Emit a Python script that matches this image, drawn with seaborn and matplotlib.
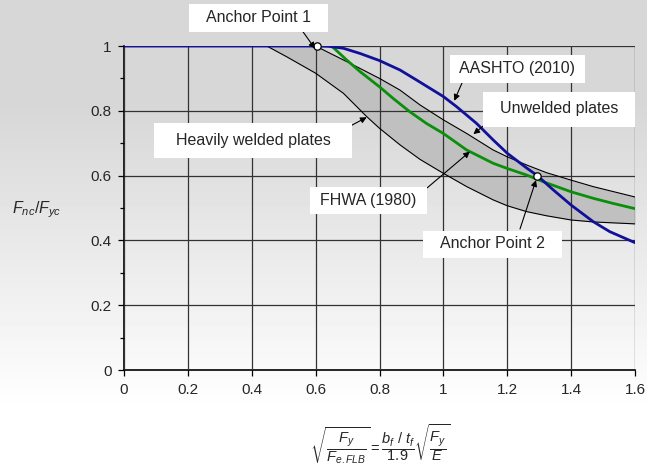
import matplotlib
matplotlib.use("Agg")
import matplotlib.pyplot as plt
from matplotlib.patches import Rectangle
from matplotlib.ticker import MultipleLocator
import numpy as np
import seaborn as sns

# AASHTO (2010) curve
aashto_x = [0.0, 0.60, 0.64, 0.687, 0.739, 0.80, 0.864, 0.916, 1.0, 1.041, 1.104, 1.156,
            1.20, 1.26, 1.294, 1.344, 1.40, 1.469, 1.521, 1.60]
aashto_y = [1.0, 1.0, 0.999, 0.993, 0.977, 0.955, 0.926, 0.895, 0.844, 0.813, 0.761, 0.71,
            0.669, 0.624, 0.60, 0.556, 0.509, 0.458, 0.427, 0.393]

# FHWA (1980) curve
fhwa_x = [0.65, 0.697, 0.739, 0.80, 0.843, 0.895, 0.947, 1.0, 1.073, 1.156, 1.20, 1.26,
          1.313, 1.40, 1.469, 1.532, 1.60]
fhwa_y = [1.0, 0.957, 0.921, 0.874, 0.838, 0.797, 0.761, 0.73, 0.679, 0.638, 0.622, 0.602,
          0.581, 0.55, 0.53, 0.514, 0.498]

# unwelded plates (upper bound of band)
unwelded_x = [0.45, 0.60, 0.634, 0.697, 0.80, 0.864, 0.927, 1.0, 1.073, 1.156, 1.20, 1.26,
              1.323, 1.40, 1.469, 1.60]
unwelded_y = [1.0, 1.0, 0.983, 0.952, 0.90, 0.864, 0.818, 0.772, 0.73, 0.679, 0.658, 0.633,
              0.609, 0.586, 0.566, 0.534]

# heavily welded plates (lower bound of band)
welded_x = [0.447, 0.509, 0.60, 0.687, 0.76, 0.80, 0.864, 0.927, 1.0, 1.073, 1.156, 1.20,
            1.26, 1.323, 1.40, 1.469, 1.60]
welded_y = [1.0, 0.967, 0.916, 0.854, 0.782, 0.746, 0.695, 0.65, 0.607, 0.566, 0.525, 0.507,
            0.489, 0.476, 0.463, 0.457, 0.451]

anchor_x = [0.603, 1.294]
anchor_y = [1.0, 0.60]

x_ticks = [0, 0.2, 0.4, 0.6, 0.8, 1.0, 1.2, 1.4, 1.6]
x_tick_labels = ["0", "0.2", "0.4", "0.6", "0.8", "1", "1.2", "1.4", "1.6"]
y_ticks = [0, 0.2, 0.4, 0.6, 0.8, 1.0]
y_tick_labels = ["0", "0.2", "0.4", "0.6", "0.8", "1"]

# label text, box centre / size in pixels (from top-left), arrow start (px) and arrow tip (data)
labels = [
    ("Anchor Point 1", (258, 18), (139, 28), (301, 29), (0.598, 0.992)),
    ("AASHTO (2010)", (517, 69), (135, 28), (462, 83), (1.034, 0.831)),
    ("Unwelded plates", (559, 109), (152, 35), (487, 123), (1.094, 0.728)),
    ("Heavily welded plates", (253, 140), (199, 35), (339, 132), (0.76, 0.78)),
    ("FHWA (1980)", (368.5, 200), (117, 27), (427, 188), (1.083, 0.674)),
    ("Anchor Point 2", (492, 244), (139, 27), (520, 229), (1.29, 0.586)),
]

W, H = 647, 470

sns.set_theme(style="ticks")
plt.rcParams["font.family"] = ["Liberation Sans", "DejaVu Sans"]
plt.rcParams["mathtext.fontset"] = "custom"
plt.rcParams["mathtext.rm"] = "Liberation Sans"
plt.rcParams["mathtext.it"] = "Liberation Sans:italic"

fig = plt.figure(figsize=(W / 100, H / 100), dpi=100)

# grey-to-white background gradient
bg = fig.add_axes([0, 0, 1, 1], zorder=-10)
rows = np.arange(H)
shade = np.interp(rows, [0, 100, 410, H], [0.84, 0.84, 1.0, 1.0])
bg.imshow(np.tile(shade[:, None], (1, 4)), cmap="gray", vmin=0, vmax=1,
          aspect="auto", extent=[0, 1, 0, 1])
bg.set_axis_off()

ax = fig.add_axes([124 / W, 1 - 370 / H, 511 / W, 324 / H])
ax.set_facecolor("none")

# shaded band between welded and unwelded curves
band_x = np.linspace(0.447, 1.6, 400)
ax.fill_between(band_x, np.interp(band_x, welded_x, welded_y),
                np.interp(band_x, unwelded_x, unwelded_y),
                color="#c0c0c0", lw=0, zorder=1)

sns.lineplot(x=unwelded_x, y=unwelded_y, ax=ax, color="black", lw=0.8,
             sort=False, estimator=None, zorder=3)
sns.lineplot(x=welded_x, y=welded_y, ax=ax, color="black", lw=0.8,
             sort=False, estimator=None, zorder=3)
sns.lineplot(x=fhwa_x, y=fhwa_y, ax=ax, color="#0a8f0a", lw=2.0,
             sort=False, estimator=None, zorder=4)
sns.lineplot(x=aashto_x, y=aashto_y, ax=ax, color="#10109a", lw=2.0,
             sort=False, estimator=None, zorder=5)
sns.scatterplot(x=anchor_x, y=anchor_y, ax=ax, s=28, color="white",
                edgecolor="black", linewidth=0.9, zorder=6, clip_on=False)

ax.set_xlim(0, 1.6)
ax.set_ylim(0, 1.0)
ax.set_xticks(x_ticks)
ax.set_xticklabels(x_tick_labels)
ax.set_yticks(y_ticks)
ax.set_yticklabels(y_tick_labels)
ax.yaxis.set_minor_locator(MultipleLocator(0.1))
ax.tick_params(axis="both", which="major", direction="out", length=4,
               width=0.9, color="black", labelsize=11, pad=5)
ax.tick_params(axis="y", which="minor", direction="out", length=3,
               width=0.9, color="black")
ax.grid(True, which="major", color="#333333", lw=0.9)
ax.set_axisbelow(False)
for side in ["top", "right"]:
    ax.spines[side].set_visible(False)
for side in ["left", "bottom"]:
    ax.spines[side].set_color("black")
    ax.spines[side].set_linewidth(1.2)

fig.text(37 / W, 1 - 210 / H, r"$F_{nc}/F_{yc}$", ha="center", va="center",
         fontsize=11.5)
fig.text(380 / W, 1 - 445 / H,
         r"$\sqrt{\dfrac{F_y}{F_{e.FLB}}} = \dfrac{b_f\ /\ t_f}{\mathrm{1.9}}\sqrt{\dfrac{F_y}{E}}$",
         ha="center", va="center", fontsize=10.5)

for text, (cx, cy), (bw, bh), (sx, sy), tip in labels:
    fig.patches.append(Rectangle(((cx - bw / 2) / W, 1 - (cy + bh / 2) / H),
                                 bw / W, bh / H, transform=fig.transFigure,
                                 facecolor="white", edgecolor="none", zorder=8))
    fig.text(cx / W, 1 - cy / H, text, ha="center", va="center",
             fontsize=11.5, zorder=9)
    ax.annotate("", xy=tip, xytext=(sx / W, 1 - sy / H),
                textcoords="figure fraction", annotation_clip=False,
                arrowprops=dict(arrowstyle="-|>", color="black", lw=0.8,
                                mutation_scale=9, shrinkA=0, shrinkB=0),
                zorder=7)

fig.savefig("out.png", dpi=100)
